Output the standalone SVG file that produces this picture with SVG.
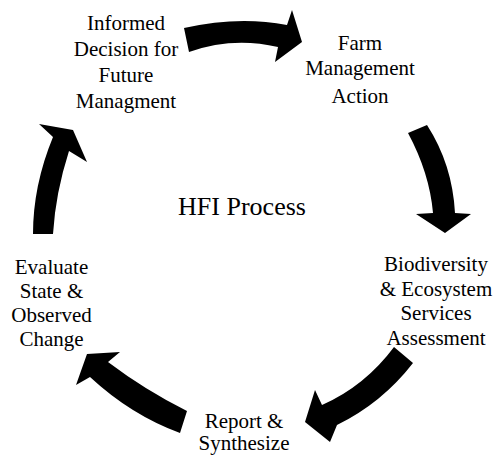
<svg xmlns="http://www.w3.org/2000/svg" width="497" height="455" viewBox="0 0 497 455">
  <style>
    .label { font-family: "Liberation Serif", "Times New Roman", serif; font-size: 21px; fill: #000; text-anchor: middle; }
    .title { font-family: "Liberation Serif", "Times New Roman", serif; font-size: 26px; fill: #000; text-anchor: middle; }
    .arrow { fill: #000; stroke: none; }
  </style>
  <rect width="497" height="455" fill="#fff"/>

  <!-- curved block arrows around the cycle -->
  <g id="connectors">
    <path class="arrow" d="M184,28 Q238.5,15.5 287,25 L292,10 L302,42 L275,62 L278,47 Q232.5,36.5 189,52 Z"/>
    <path class="arrow" d="M408,133 L427,125 Q452.4,164.4 455,213 L471,214 L445,233 L416,214 L433,213 Q429.5,173 408,133 Z"/>
    <path class="arrow" d="M394,347 L413,363 Q382,403 337,425 L330,442 L305,422 L315,390 L322,405 Q365,386 394,347 Z"/>
    <path class="arrow" d="M120,352 L108,362 Q145,390 187,411 L180,433 Q131,415 90,377 L76,385 L87,354 Z"/>
    <path class="arrow" d="M33,234 Q33,185.5 53,137 L39,124 L73,130 L87,162 L69,151 Q55.5,193 53,234 Z"/>
  </g>

  <g id="center-title">
    <text class="title" x="242" y="215">HFI Process</text>
  </g>

  <g id="node-decision">
    <text class="label" x="126" y="30">Informed</text>
    <text class="label" x="126" y="56">Decision for</text>
    <text class="label" x="126" y="82">Future</text>
    <text class="label" x="126" y="108">Managment</text>
  </g>

  <g id="node-farm">
    <text class="label" x="360" y="50">Farm</text>
    <text class="label" x="360" y="75">Management</text>
    <text class="label" x="360" y="103">Action</text>
  </g>

  <g id="node-assessment">
    <text class="label" x="436" y="271">Biodiversity</text>
    <text class="label" x="436" y="295.5">&amp; Ecosystem</text>
    <text class="label" x="436" y="320">Services</text>
    <text class="label" x="436" y="344.5">Assessment</text>
  </g>

  <g id="node-report">
    <text class="label" x="244" y="428">Report &amp;</text>
    <text class="label" x="244" y="450">Synthesize</text>
  </g>

  <g id="node-evaluate">
    <text class="label" x="51.5" y="274">Evaluate</text>
    <text class="label" x="51.5" y="298">State &amp;</text>
    <text class="label" x="51.5" y="322">Observed</text>
    <text class="label" x="51.5" y="346">Change</text>
  </g>
</svg>
